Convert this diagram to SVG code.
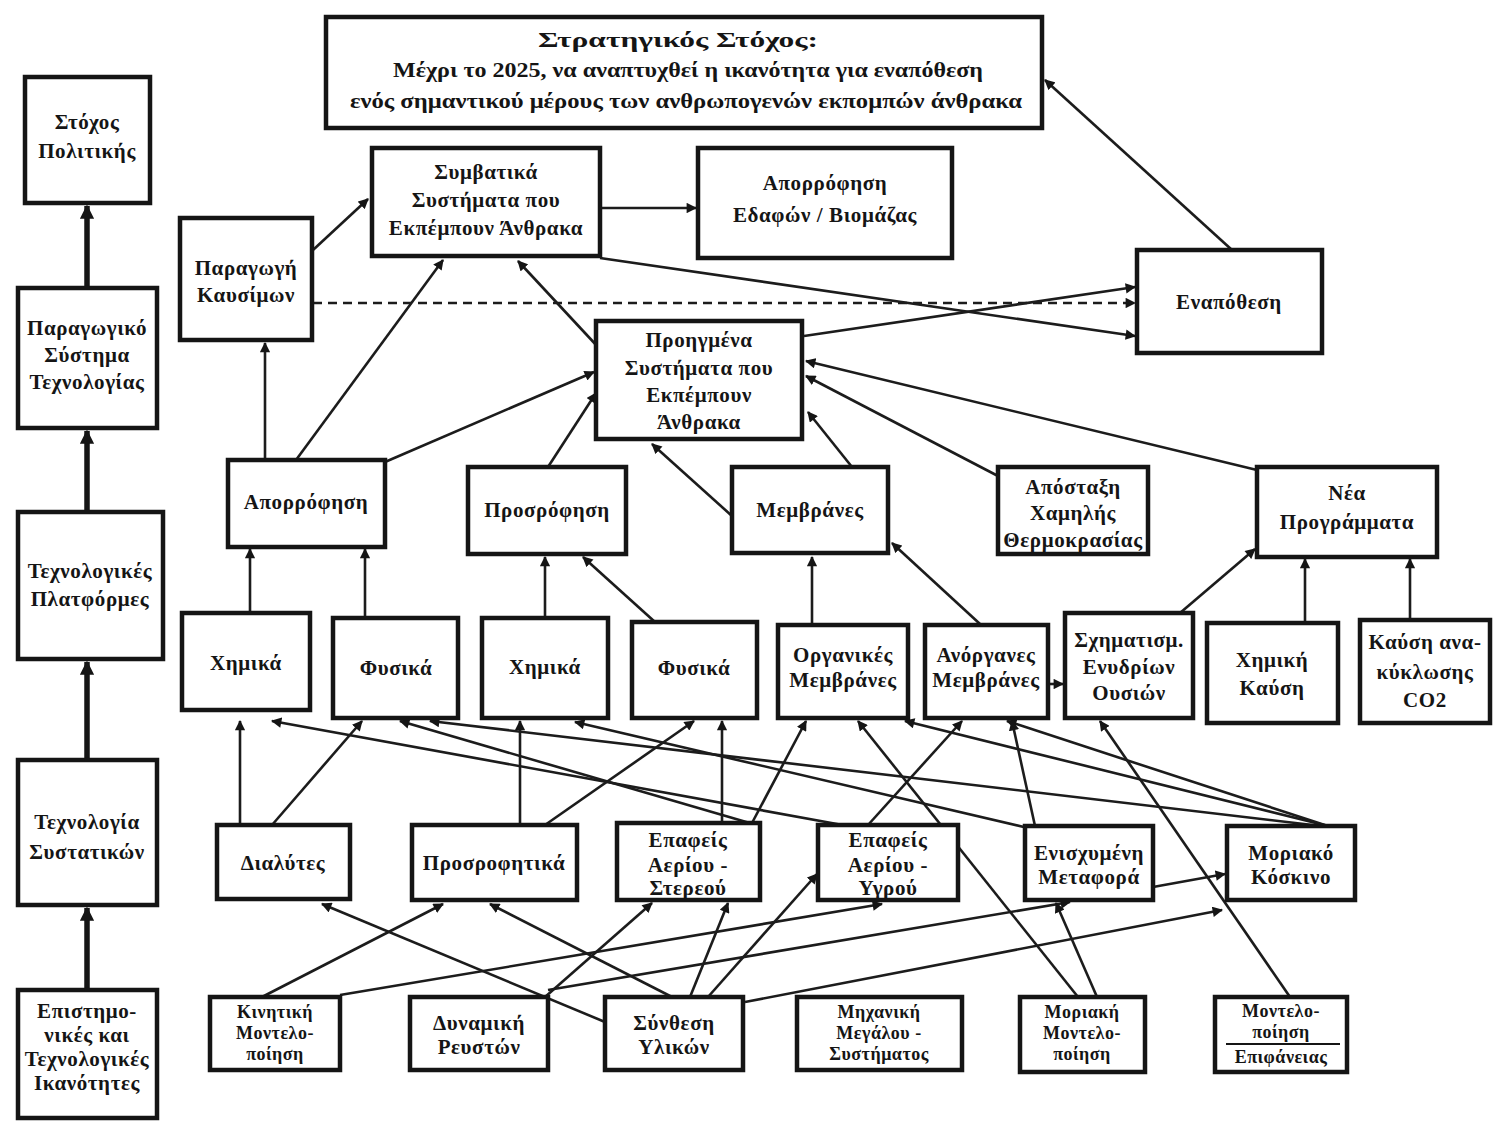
<svg xmlns="http://www.w3.org/2000/svg" width="1506" height="1122" viewBox="0 0 1506 1122">
  <style>
    .box { fill: #ffffff; stroke: #151515; stroke-width: 4.5; }
    .lbl { font-family: "Liberation Serif", "DejaVu Serif", serif; font-weight: bold; font-size: 21px; fill: #151515; text-anchor: middle; letter-spacing: 0.6px; }
    .goal { font-size: 20px; letter-spacing: 0; }
    .sm { font-size: 18px; letter-spacing: 0.5px; }
    .edge { fill: none; stroke: #1c1c1c; stroke-width: 2.6; marker-end: url(#ah); }
    .spine { fill: none; stroke: #151515; stroke-width: 5.5; marker-end: url(#ahs); }
    .dash { stroke-dasharray: 9 6; }
  </style>
  <defs>
    <marker id="ah" viewBox="0 0 10 10" refX="9" refY="5" markerWidth="4.2" markerHeight="4" orient="auto" markerUnits="strokeWidth">
      <path d="M0,0 L10,5 L0,10 z" fill="#151515"/>
    </marker>
    <marker id="ahs" viewBox="0 0 10 10" refX="9" refY="5" markerWidth="2.6" markerHeight="2.6" orient="auto" markerUnits="strokeWidth">
      <path d="M0,0 L10,5 L0,10 z" fill="#151515"/>
    </marker>
  </defs>
  <rect width="1506" height="1122" fill="#ffffff"/>

  <!-- connectors -->
  <g id="connectors">
    <!-- left spine -->
    <path class="spine" d="M87,288 L87,206"/>
    <path class="spine" d="M87,512 L87,431"/>
    <path class="spine" d="M87,760 L87,662"/>
    <path class="spine" d="M87,990 L87,908"/>

    <!-- upper levels -->
    <path class="edge" d="M313,250 L368,199"/>
    <path class="edge" d="M600,208 L696,208"/>
    <path class="edge" d="M600,258 L1135,336"/>
    <path class="edge dash" d="M313,303 L1135,303"/>
    <path class="edge" d="M804,336 L1135,287"/>
    <path class="edge" d="M1232,250 L1045,80"/>
    <path class="edge" d="M265,460 L265,343"/>
    <path class="edge" d="M296,460 L443,260"/>
    <path class="edge" d="M385,462 L594,372"/>
    <path class="edge" d="M598,347 L518,261"/>
    <path class="edge" d="M548,467 L596,393"/>
    <path class="edge" d="M852,467 L808,412"/>
    <path class="edge" d="M732,516 L652,444"/>
    <path class="edge" d="M998,476 L806,376"/>
    <path class="edge" d="M1257,470 L806,361"/>
    <path class="edge" d="M1180,613 L1255,549"/>
    <path class="edge" d="M1305,622 L1305,559"/>
    <path class="edge" d="M1410,620 L1410,559"/>

    <!-- technologies to approaches -->
    <path class="edge" d="M250,613 L250,549"/>
    <path class="edge" d="M365,618 L365,549"/>
    <path class="edge" d="M545,618 L545,557"/>
    <path class="edge" d="M655,622 L583,557"/>
    <path class="edge" d="M812,625 L812,557"/>
    <path class="edge" d="M980,624 L892,543"/>
    <path class="edge" d="M1048,684 L1063,684"/>

    <!-- components to technologies -->
    <path class="edge" d="M240,825 L240,721"/>
    <path class="edge" d="M272,825 L362,721"/>
    <path class="edge" d="M520,825 L520,721"/>
    <path class="edge" d="M545,825 L694,721"/>
    <path class="edge" d="M722,823 L722,721"/>
    <path class="edge" d="M752,823 L806,721"/>
    <path class="edge" d="M848,826 L272,721"/>
    <path class="edge" d="M760,826 L400,721"/>
    <path class="edge" d="M868,825 L962,721"/>
    <path class="edge" d="M1035,826 L1012,721"/>
    <path class="edge" d="M1028,828 L575,722"/>
    <path class="edge" d="M1338,828 L430,721"/>
    <path class="edge" d="M1336,828 L905,721"/>
    <path class="edge" d="M1334,828 L1007,721"/>
    <path class="edge" d="M1078,997 L858,721"/>
    <path class="edge" d="M1290,997 L1100,721"/>

    <!-- capabilities to components -->
    <path class="edge" d="M262,997 L443,904"/>
    <path class="edge" d="M605,1022 L322,904"/>
    <path class="edge" d="M672,997 L490,904"/>
    <path class="edge" d="M545,997 L652,903"/>
    <path class="edge" d="M690,997 L728,903"/>
    <path class="edge" d="M708,997 L817,874"/>
    <path class="edge" d="M340,995 L882,904"/>
    <path class="edge" d="M548,990 L1070,902"/>
    <path class="edge" d="M745,1002 L1222,910"/>
    <path class="edge" d="M1097,997 L1056,903"/>
    <path class="edge" d="M1153,887 L1225,874"/>
  </g>

  <!-- goal -->
  <g id="n-goal">
    <rect class="box" x="326" y="17" width="716" height="111"/>
    <text class="lbl goal" x="678" y="47" textLength="280" lengthAdjust="spacingAndGlyphs">Στρατηγικός Στόχος:</text>
    <text class="lbl goal" x="688" y="77" textLength="590" lengthAdjust="spacingAndGlyphs">Μέχρι το 2025, να αναπτυχθεί η ικανότητα για εναπόθεση</text>
    <text class="lbl goal" x="686" y="108" textLength="672" lengthAdjust="spacingAndGlyphs">ενός σημαντικού μέρους των ανθρωπογενών εκπομπών άνθρακα</text>
  </g>

  <!-- left column -->
  <g id="n-policy">
    <rect class="box" x="25" y="77" width="125" height="126"/>
    <text class="lbl" x="87" y="129">Στόχος</text>
    <text class="lbl" x="87" y="158">Πολιτικής</text>
  </g>
  <g id="n-prodsys">
    <rect class="box" x="18" y="288" width="139" height="140"/>
    <text class="lbl" x="87" y="335">Παραγωγικό</text>
    <text class="lbl" x="87" y="362">Σύστημα</text>
    <text class="lbl" x="87" y="389">Τεχνολογίας</text>
  </g>
  <g id="n-platforms">
    <rect class="box" x="18" y="512" width="145" height="147"/>
    <text class="lbl" x="90" y="578">Τεχνολογικές</text>
    <text class="lbl" x="90" y="606">Πλατφόρμες</text>
  </g>
  <g id="n-comptech">
    <rect class="box" x="18" y="760" width="139" height="145"/>
    <text class="lbl" x="87" y="829">Τεχνολογία</text>
    <text class="lbl" x="87" y="859">Συστατικών</text>
  </g>
  <g id="n-capab">
    <rect class="box" x="18" y="990" width="139" height="128"/>
    <text class="lbl" x="87" y="1018">Επιστημο-</text>
    <text class="lbl" x="87" y="1042">νικές και</text>
    <text class="lbl" x="87" y="1066">Τεχνολογικές</text>
    <text class="lbl" x="87" y="1090">Ικανότητες</text>
  </g>

  <!-- systems level -->
  <g id="n-conv">
    <rect class="box" x="372" y="148" width="228" height="108"/>
    <text class="lbl" x="486" y="179">Συμβατικά</text>
    <text class="lbl" x="486" y="207">Συστήματα που</text>
    <text class="lbl" x="486" y="235">Εκπέμπουν Άνθρακα</text>
  </g>
  <g id="n-soil">
    <rect class="box" x="698" y="148" width="254" height="110"/>
    <text class="lbl" x="825" y="190">Απορρόφηση</text>
    <text class="lbl" x="825" y="222">Εδαφών / Βιομάζας</text>
  </g>
  <g id="n-fuel">
    <rect class="box" x="180" y="218" width="132" height="122"/>
    <text class="lbl" x="246" y="275">Παραγωγή</text>
    <text class="lbl" x="246" y="302">Καυσίμων</text>
  </g>
  <g id="n-depo">
    <rect class="box" x="1137" y="250" width="185" height="103"/>
    <text class="lbl" x="1229" y="309">Εναπόθεση</text>
  </g>
  <g id="n-adv">
    <rect class="box" x="596" y="321" width="206" height="118"/>
    <text class="lbl" x="699" y="347">Προηγμένα</text>
    <text class="lbl" x="699" y="375">Συστήματα που</text>
    <text class="lbl" x="699" y="402">Εκπέμπουν</text>
    <text class="lbl" x="699" y="429">Άνθρακα</text>
  </g>

  <!-- approaches -->
  <g id="n-absorp">
    <rect class="box" x="228" y="460" width="157" height="87"/>
    <text class="lbl" x="306" y="509">Απορρόφηση</text>
  </g>
  <g id="n-adsorp">
    <rect class="box" x="468" y="467" width="158" height="87"/>
    <text class="lbl" x="547" y="517">Προσρόφηση</text>
  </g>
  <g id="n-memb">
    <rect class="box" x="732" y="467" width="156" height="86"/>
    <text class="lbl" x="810" y="517">Μεμβράνες</text>
  </g>
  <g id="n-cryo">
    <rect class="box" x="998" y="467" width="150" height="87"/>
    <text class="lbl" x="1073" y="494">Απόσταξη</text>
    <text class="lbl" x="1073" y="520">Χαμηλής</text>
    <text class="lbl" x="1073" y="547">Θερμοκρασίας</text>
  </g>
  <g id="n-newprog">
    <rect class="box" x="1257" y="467" width="180" height="90"/>
    <text class="lbl" x="1347" y="500">Νέα</text>
    <text class="lbl" x="1347" y="529">Προγράμματα</text>
  </g>

  <!-- technologies -->
  <g id="n-chem1">
    <rect class="box" x="182" y="613" width="128" height="97"/>
    <text class="lbl" x="246" y="670">Χημικά</text>
  </g>
  <g id="n-phys1">
    <rect class="box" x="333" y="618" width="125" height="100"/>
    <text class="lbl" x="396" y="675">Φυσικά</text>
  </g>
  <g id="n-chem2">
    <rect class="box" x="482" y="618" width="126" height="100"/>
    <text class="lbl" x="545" y="674">Χημικά</text>
  </g>
  <g id="n-phys2">
    <rect class="box" x="632" y="622" width="125" height="96"/>
    <text class="lbl" x="694" y="675">Φυσικά</text>
  </g>
  <g id="n-org">
    <rect class="box" x="778" y="625" width="130" height="93"/>
    <text class="lbl" x="843" y="662">Οργανικές</text>
    <text class="lbl" x="843" y="687">Μεμβράνες</text>
  </g>
  <g id="n-inorg">
    <rect class="box" x="925" y="625" width="123" height="93"/>
    <text class="lbl" x="986" y="662">Ανόργανες</text>
    <text class="lbl" x="986" y="687">Μεμβράνες</text>
  </g>
  <g id="n-hydrate">
    <rect class="box" x="1065" y="613" width="128" height="105"/>
    <text class="lbl" x="1129" y="647">Σχηματισμ.</text>
    <text class="lbl" x="1129" y="674">Ενυδρίων</text>
    <text class="lbl" x="1129" y="700">Ουσιών</text>
  </g>
  <g id="n-chemloop">
    <rect class="box" x="1207" y="623" width="131" height="100"/>
    <text class="lbl" x="1272" y="667">Χημική</text>
    <text class="lbl" x="1272" y="695">Καύση</text>
  </g>
  <g id="n-recycle">
    <rect class="box" x="1360" y="620" width="130" height="103"/>
    <text class="lbl" x="1425" y="649">Καύση ανα-</text>
    <text class="lbl" x="1425" y="679">κύκλωσης</text>
    <text class="lbl" x="1425" y="707">CO2</text>
  </g>

  <!-- components -->
  <g id="n-solv">
    <rect class="box" x="217" y="825" width="133" height="74"/>
    <text class="lbl" x="283" y="870">Διαλύτες</text>
  </g>
  <g id="n-sorb">
    <rect class="box" x="412" y="825" width="165" height="75"/>
    <text class="lbl" x="494" y="870">Προσροφητικά</text>
  </g>
  <g id="n-gs">
    <rect class="box" x="617" y="823" width="143" height="77"/>
    <text class="lbl" x="688" y="847">Επαφείς</text>
    <text class="lbl" x="688" y="872">Αερίου -</text>
    <text class="lbl" x="688" y="895">Στερεού</text>
  </g>
  <g id="n-gl">
    <rect class="box" x="818" y="825" width="140" height="75"/>
    <text class="lbl" x="888" y="847">Επαφείς</text>
    <text class="lbl" x="888" y="872">Αερίου -</text>
    <text class="lbl" x="888" y="895">Υγρού</text>
  </g>
  <g id="n-enh">
    <rect class="box" x="1025" y="826" width="128" height="74"/>
    <text class="lbl" x="1089" y="860">Ενισχυμένη</text>
    <text class="lbl" x="1089" y="884">Μεταφορά</text>
  </g>
  <g id="n-sieve">
    <rect class="box" x="1227" y="826" width="128" height="74"/>
    <text class="lbl" x="1291" y="860">Μοριακό</text>
    <text class="lbl" x="1291" y="884">Κόσκινο</text>
  </g>

  <!-- capabilities -->
  <g id="n-kin">
    <rect class="box" x="210" y="997" width="130" height="73"/>
    <text class="lbl sm" x="275" y="1018">Κινητική</text>
    <text class="lbl sm" x="275" y="1039">Μοντελο-</text>
    <text class="lbl sm" x="275" y="1060">ποίηση</text>
  </g>
  <g id="n-cfd">
    <rect class="box" x="410" y="997" width="138" height="73"/>
    <text class="lbl" x="479" y="1030">Δυναμική</text>
    <text class="lbl" x="479" y="1054">Ρευστών</text>
  </g>
  <g id="n-synth">
    <rect class="box" x="605" y="997" width="138" height="73"/>
    <text class="lbl" x="674" y="1030">Σύνθεση</text>
    <text class="lbl" x="674" y="1054">Υλικών</text>
  </g>
  <g id="n-sys">
    <rect class="box" x="797" y="997" width="165" height="73"/>
    <text class="lbl sm" x="879" y="1018">Μηχανική</text>
    <text class="lbl sm" x="879" y="1039">Μεγάλου -</text>
    <text class="lbl sm" x="879" y="1060">Συστήματος</text>
  </g>
  <g id="n-molmod">
    <rect class="box" x="1020" y="997" width="125" height="75"/>
    <text class="lbl sm" x="1082" y="1018">Μοριακή</text>
    <text class="lbl sm" x="1082" y="1039">Μοντελο-</text>
    <text class="lbl sm" x="1082" y="1060">ποίηση</text>
  </g>
  <g id="n-surf">
    <rect class="box" x="1215" y="997" width="132" height="75"/>
    <text class="lbl sm" x="1281" y="1017">Μοντελο-</text>
    <text class="lbl sm" x="1281" y="1038">ποίηση</text>
    <line x1="1226" y1="1044" x2="1340" y2="1044" stroke="#151515" stroke-width="2"/>
    <text class="lbl sm" x="1281" y="1063">Επιφάνειας</text>
  </g>
</svg>
